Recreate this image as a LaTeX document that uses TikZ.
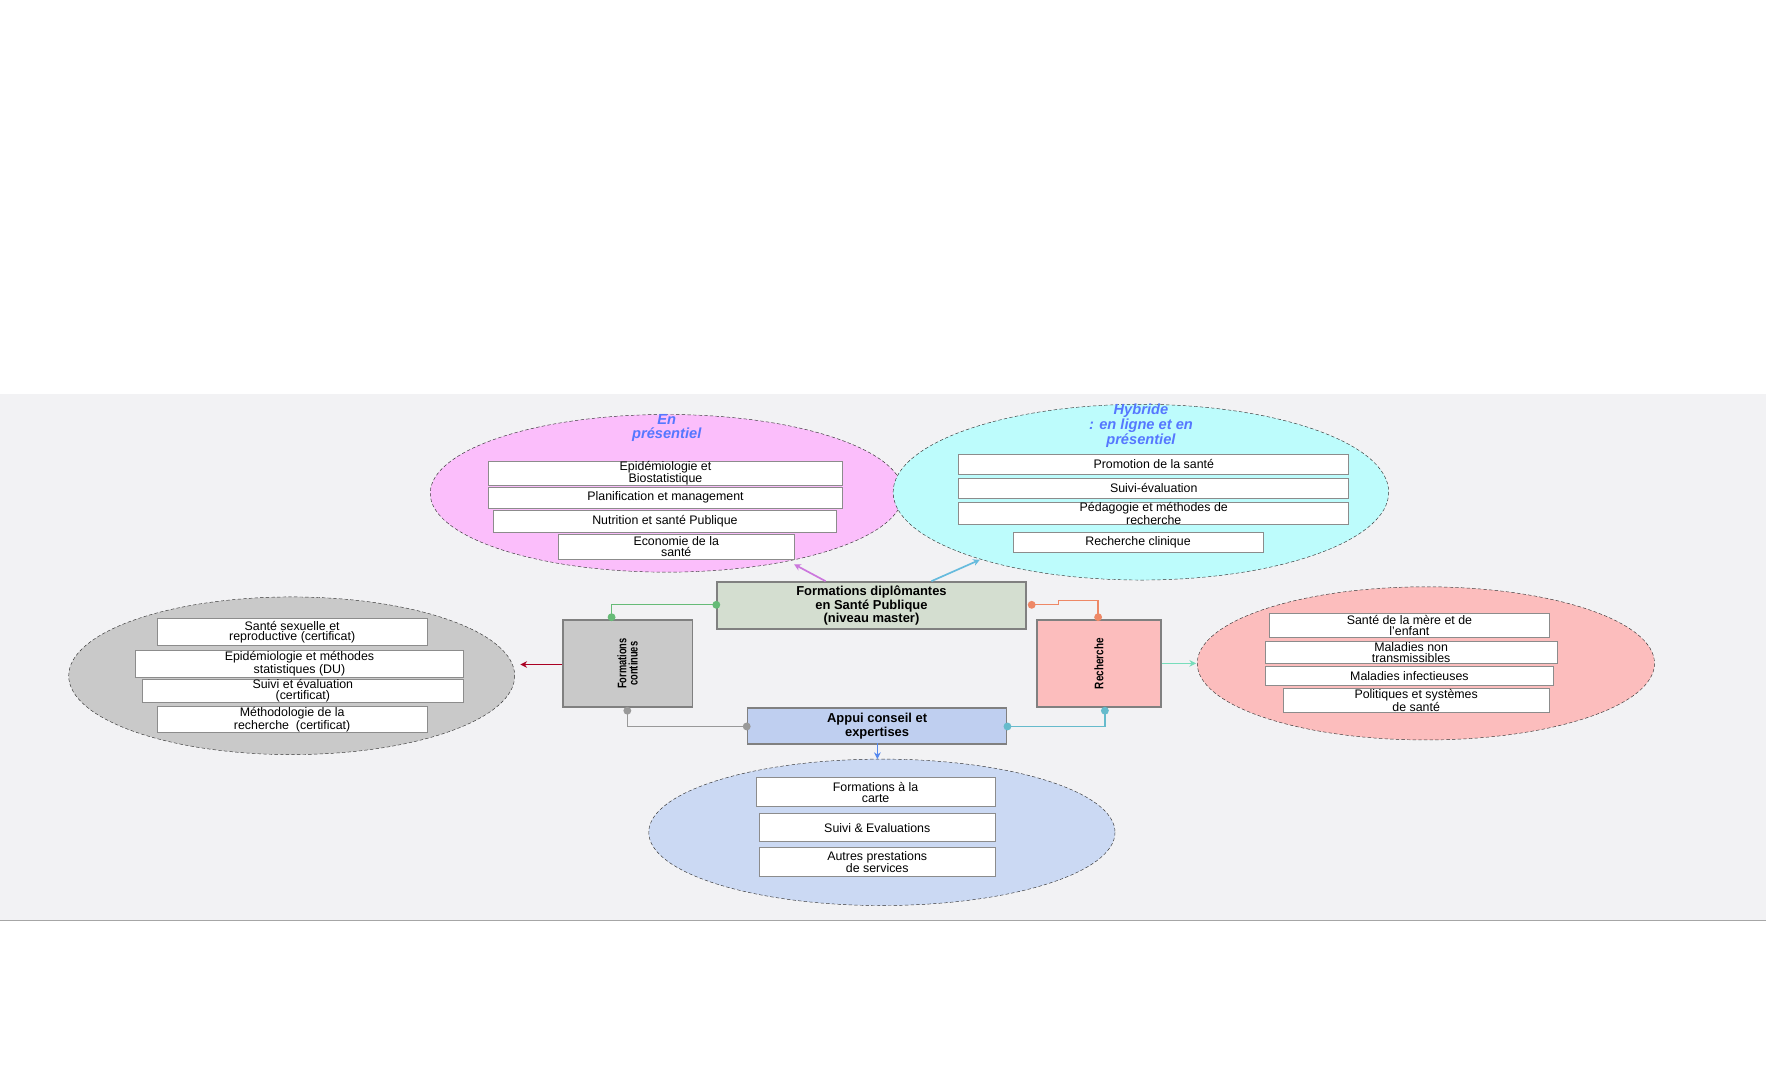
\documentclass[tikz,border=0pt]{standalone}
\usepackage{fontspec}
\setmainfont{Liberation Sans}
\usetikzlibrary{arrows.meta}
\definecolor{bgc}{HTML}{F2F2F4}
\definecolor{pinkc}{HTML}{FBBEFB}
\definecolor{cyanc}{HTML}{BDFCFC}
\definecolor{grayc}{HTML}{C9C9C9}
\definecolor{redc}{HTML}{FCBDBD}
\definecolor{bluec}{HTML}{CBD9F3}
\definecolor{fdc}{HTML}{D4DED0}
\definecolor{apc}{HTML}{BFCFF0}
\definecolor{ttl}{HTML}{5577FF}
\definecolor{cpink}{HTML}{CC77DD}
\definecolor{ccyan}{HTML}{66BBDD}
\definecolor{cgreen}{HTML}{66BB77}
\definecolor{corange}{HTML}{EE8866}
\definecolor{cdred}{HTML}{AA0022}
\definecolor{cteal}{HTML}{77DDBB}
\definecolor{cgray}{HTML}{999999}
\definecolor{cblue}{HTML}{5588EE}
\definecolor{ctb}{HTML}{66BBCC}
\tikzset{
 ell/.style={draw=black!80,dashed,dash pattern=on 3pt off 2pt,thin},
 item/.style={draw=black!45,fill=white,line width=0.8pt,inner sep=0pt,align=center,font=\fontsize{11}{9.5}\selectfont},
 main/.style={draw=black!50,line width=1.5pt,inner sep=0pt,align=center,font=\bfseries\fontsize{11.5}{10.5}\selectfont},
 ttlst/.style={text=ttl,font=\bfseries\itshape\fontsize{13}{12}\selectfont,align=center},
 con/.style={line width=1.2pt},
 arr/.style={line width=1.5pt,-{Stealth[length=6pt,width=6pt]}},
 dot/.style={circle,fill,inner sep=0pt,minimum size=7pt}
}
\newcommand{\bx}[6]{\node[#1,minimum width=#4-#2,minimum height=#5-#3,anchor=north west] (#6) at (#2,#3)}
\begin{document}
\begin{tikzpicture}[x=1pt,y=-1pt]
\useasboundingbox (0,0) rectangle (1568,950);
\fill[bgc] (0,350) rectangle (1568,817);
\draw[black!35,line width=1pt] (0,817) -- (1568,817);
% ellipses
\draw[ell,fill=pinkc] (592,438) ellipse [x radius=210,y radius=70];
\draw[ell,fill=cyanc] (1013,437) ellipse [x radius=220,y radius=78];
\draw[ell,fill=grayc] (259,600) ellipse [x radius=198,y radius=70];
\draw[ell,fill=redc] (1266,589) ellipse [x radius=203,y radius=68];
\draw[ell,fill=bluec] (783,739) ellipse [x radius=207,y radius=65];
% titles
\node[ttlst] (t1) at (592,380) {En\\présentiel};
\node[ttlst] (t2) at (1013,378) {Hybride\\: en ligne et en\\présentiel};
% pink items
\bx{item}{433}{409}{748}{429}{p1} {Epidémiologie et\\Biostatistique};
\bx{item}{433}{432}{748}{451}{p2} {Planification et management};
\bx{item}{438}{453}{742}{472}{p3} {Nutrition et santé Publique};
\bx{item}{495}{474}{705}{496}{p4} {Economie de la\\santé};
% cyan items
\bx{item}{851}{403}{1197}{421}{c1} {Promotion de la santé};
\bx{item}{851}{424}{1197}{442}{c2} {Suivi-évaluation};
\bx{item}{851}{446}{1197}{465}{c3} {Pédagogie et méthodes de\\recherche};
\bx{item}{899}{472}{1121}{490}{c4} {Recherche clinique};
% gray items
\bx{item}{139}{549}{379}{573}{g1} {Santé sexuelle et\\reproductive (certificat)};
\bx{item}{120}{577}{411}{601}{g2} {Epidémiologie et méthodes\\statistiques (DU)};
\bx{item}{126}{603}{411}{623}{g3} {Suivi et évaluation\\(certificat)};
\bx{item}{139}{627}{379}{650}{g4} {Méthodologie de la\\recherche\ \ (certificat)};
% red items
\bx{item}{1127}{544}{1375}{566}{r1} {Santé de la mère et de\\l'enfant};
\bx{item}{1123}{569}{1382}{589}{r2} {Maladies non\\transmissibles};
\bx{item}{1123}{591}{1379}{608}{r3} {Maladies infectieuses};
\bx{item}{1139}{611}{1375}{632}{r4} {Politiques et systèmes\\de santé};
% blue items
\bx{item}{671}{690}{883}{716}{b1} {Formations à la\\carte};
\bx{item}{674}{722}{883}{747}{b2} {Suivi \& Evaluations};
\bx{item}{674}{752}{883}{778}{b3} {Autres prestations\\de services};
% main boxes
\bx{main,fill=fdc}{636}{516}{910}{558}{fd} {Formations diplômantes\\en Santé Publique\\(niveau master)};
\bx{main,fill=grayc}{499}{550}{614}{627}{fc} {};
\node[rotate=90,align=center,font=\bfseries\fontsize{11}{10}\selectfont,xscale=0.75] (fct) at (fc.center) {Formations\\continues};
\bx{main,fill=redc}{920}{550}{1030}{627}{re} {};
\node[rotate=90,font=\bfseries\fontsize{11}{10}\selectfont,xscale=0.8] (ret) at (re.center) {Recherche};
\bx{main,fill=apc}{663}{628}{893}{660}{ap} {Appui conseil et\\expertises};
% connectors
\coordinate (a1) at (733,516); \coordinate (a2) at (705,501);
\draw[arr,cpink] (a1) -- (a2);
\coordinate (a3) at (827,516); \coordinate (a4) at (870,497);
\draw[arr,ccyan] (a3) -- (a4);
\draw[con,cgreen] (fd.west |- 0,537) node[dot]{} -- (543,537) -- (543,548) node[dot]{};
\draw[con,corange] (916,537) node[dot]{} -- (940,537) -- (940,533) -- (975,533) -- (975,548) node[dot]{};
\draw[arr,cdred] (fc.west |- 0,590) -- (462,590);
\draw[arr,cteal] (re.east |- 0,589) -- (1062,589);
\draw[con,cgray] (ap.west |- 0,645) node[dot]{} -- (557,645) -- (557,631) node[dot]{};
\draw[con,ctb] (ap.east |- 0,645) node[dot]{} -- (981,645) -- (981,631) node[dot]{};
\draw[arr,cblue] (779,660) -- (779,674);
\end{tikzpicture}
\end{document}
